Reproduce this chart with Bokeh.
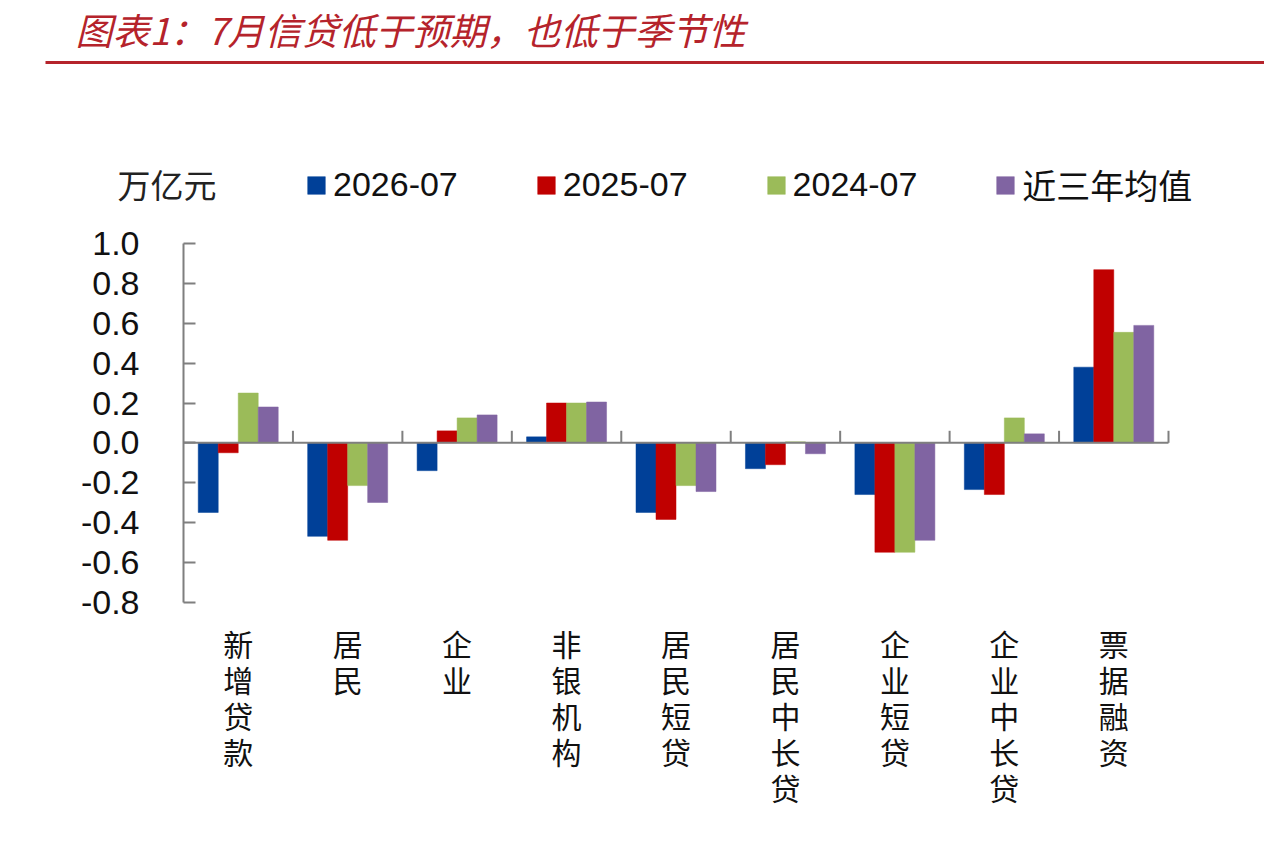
import numpy as np
from bokeh.plotting import figure
from bokeh.models import (Range1d, LinearAxis, FixedTicker, PrintfTickFormatter,
                          Legend, LegendItem, ColumnDataSource)
from bokeh.core.properties import value
from bokeh.embed import file_html
from bokeh.resources import INLINE

# ---------------- data ----------------
categories = ["新增贷款", "居民", "企业", "非银机构", "居民短贷",
              "居民中长贷", "企业短贷", "企业中长贷", "票据融资"]
series_names = ["2026-07", "2025-07", "2024-07", "近三年均值"]
s2026 = [-0.35, -0.47, -0.14, 0.03, -0.35, -0.13, -0.26, -0.235, 0.38]
s2025 = [-0.05, -0.49, 0.06, 0.20, -0.385, -0.11, -0.55, -0.26, 0.87]
s2024 = [0.25, -0.215, 0.125, 0.20, -0.215, 0.005, -0.55, 0.125, 0.555]
avg3 = [0.18, -0.30, 0.14, 0.205, -0.245, -0.055, -0.49, 0.045, 0.59]
y_ticks = [-0.8, -0.6, -0.4, -0.2, 0.0, 0.2, 0.4, 0.6, 0.8, 1.0]
title_text = "图表1：7月信贷低于预期，也低于季节性"
unit_text = "万亿元"

colors = ["#004098", "#C00000", "#9BBB59", "#8064A2"]
axis_color = "#7f7f7f"

# ---------------- geometry (canvas pixels -> data) ----------------
W, H = 1264, 840
X0, K = 183.0, 985.0 / 9.0      # canvas px of x=0, px per x unit
Y0, S = 442.3, 199.0            # canvas px of y=0, px per y unit


def dx(px):
    return (px - X0) / K


def dy(py):
    return (Y0 - py) / S


p = figure(width=W, height=H, output_backend="svg", toolbar_location=None,
           x_range=Range1d(dx(0), dx(W)), y_range=Range1d(dy(H), dy(0)),
           x_axis_location=None, y_axis_location=None,
           min_border=0, min_border_left=0, min_border_right=0,
           min_border_top=0, min_border_bottom=0)
p.outline_line_color = None
p.grid.visible = False
p.background_fill_color = "white"

# ---------------- bars ----------------
n = len(categories)
centers = np.arange(n) + 0.5
bw = 20.0 / K
renderers = []
for i, (vals, col) in enumerate(zip([s2026, s2025, s2024, avg3], colors)):
    src = ColumnDataSource(dict(x=centers + (i - 1.5) * bw, top=vals))
    r = p.vbar(x="x", top="top", bottom=0, width=bw, source=src,
               fill_color=col, line_color=col, line_width=0.5)
    renderers.append(r)

# ---------------- y axis ----------------
yax = LinearAxis(ticker=FixedTicker(ticks=y_ticks),
                 formatter=PrintfTickFormatter(format="%.1f"))
yax.fixed_location = 0
yax.bounds = (min(y_ticks), max(y_ticks))
yax.major_tick_in = 12
yax.major_tick_out = 0
yax.minor_tick_line_color = None
yax.axis_line_color = axis_color
yax.axis_line_width = 2
yax.major_tick_line_color = axis_color
yax.major_tick_line_width = 2
yax.major_label_standoff = 44
yax.major_label_text_font = "Liberation Sans"
yax.major_label_text_font_size = "34px"
yax.major_label_text_color = "#111111"
p.add_layout(yax, "left")

# ---------------- x axis (category axis at zero) ----------------
bounds = np.arange(1, n + 1)
p.segment(x0=[0], y0=[0], x1=[n], y1=[0], line_color=axis_color, line_width=2)
p.segment(x0=bounds, y0=np.zeros(n), x1=bounds, y1=np.full(n, 12.0 / S),
          line_color=axis_color, line_width=2)

# ---------------- category labels (vertical) ----------------
lab_src = ColumnDataSource(dict(x=centers, y=[dy(620)] * n,
                                text=["\n".join(c) for c in categories]))
p.text(x="x", y="y", text="text", source=lab_src,
       text_font=value("Noto Sans CJK SC"), text_font_size="30px",
       text_align="center", text_baseline="top", text_line_height=0.82,
       text_color="#111111")

# ---------------- title & rule ----------------
p.text(x=[dx(75)], y=[dy(1)], text=[title_text],
       text_font=value("Noto Sans CJK SC"), text_font_size="37px",
       text_font_style="italic", text_color="#B5232B",
       text_align="left", text_baseline="top")
p.line(x=[dx(45), dx(W)], y=[dy(62), dy(62)], line_color="#B5232B",
       line_width=3)

# ---------------- legend ----------------
p.text(x=[dx(117)], y=[dy(183)], text=[unit_text],
       text_font=value("Noto Sans CJK SC"), text_font_size="33px",
       text_color="#222222", text_align="left", text_baseline="middle")

legend = Legend(items=[LegendItem(label=nm, renderers=[r])
                       for nm, r in zip(series_names, renderers)],
                orientation="horizontal", location=(305, 631),
                padding=0, margin=0, spacing=77, label_standoff=6,
                glyph_width=22, glyph_height=22, label_height=40,
                label_text_font="'Liberation Sans', 'Noto Sans CJK SC'",
                label_text_font_size="34px", label_text_color="#111111",
                border_line_color=None, background_fill_alpha=0)
p.add_layout(legend)

open("out.html", "w").write(file_html(p, INLINE))
